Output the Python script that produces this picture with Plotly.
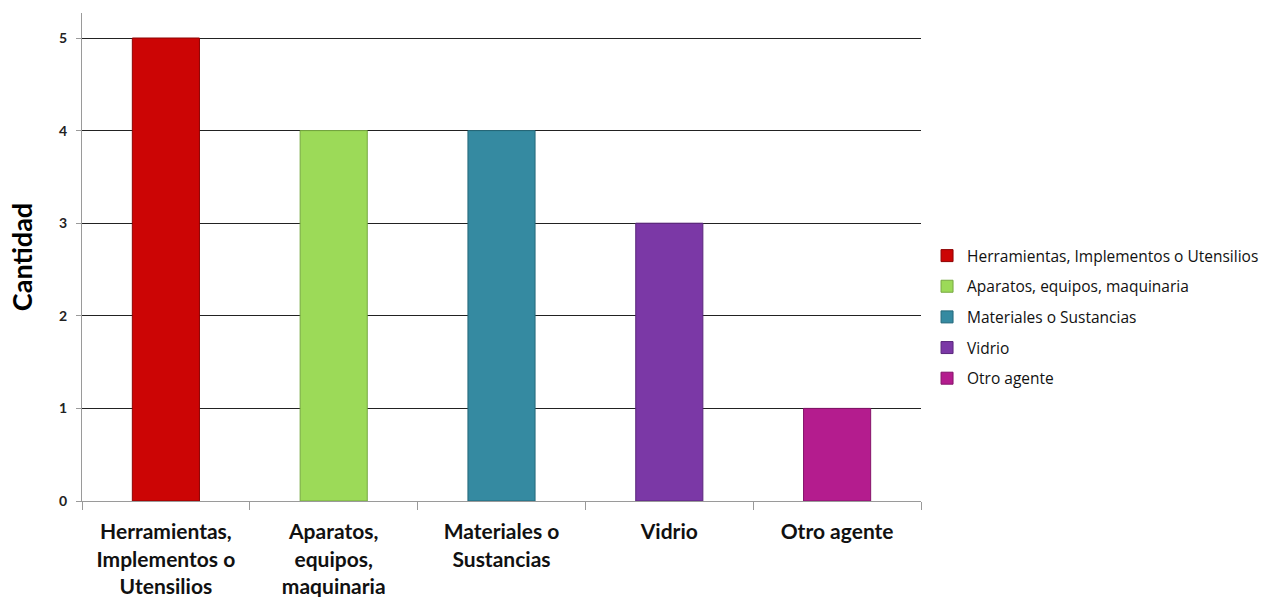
import plotly.graph_objects as go

categories = [
    "Herramientas,<br>Implementos o<br>Utensilios",
    "Aparatos,<br>equipos,<br>maquinaria",
    "Materiales o<br>Sustancias",
    "Vidrio",
    "Otro agente",
]
legend_names = [
    "Herramientas, Implementos o Utensilios",
    "Aparatos, equipos, maquinaria",
    "Materiales o Sustancias",
    "Vidrio",
    "Otro agente",
]
values = [5, 4, 4, 3, 1]
colors = ["#CC0505", "#9CDA58", "#358AA1", "#7B38A6", "#B41C8E"]
edge_colors = ["#8E0303", "#76A840", "#25687A", "#5A277C", "#85146A"]

fig = go.Figure()
for cat, name, val, col, edge in zip(categories, legend_names, values, colors, edge_colors):
    fig.add_trace(go.Bar(
        x=[cat], y=[val], name=name, width=0.4,
        legendgroup=name,
        marker=dict(color=col, line=dict(color=edge, width=1)),
    ))

fig.update_layout(
    width=1275, height=597,
    margin=dict(l=82, r=353, t=13, b=96),
    paper_bgcolor="white", plot_bgcolor="white",
    barmode="overlay",
    font=dict(family="Lato, Open Sans, sans-serif", color="#000000"),
    showlegend=True,
    legend=dict(
        x=1.006, xanchor="left", y=0.377, yanchor="middle",
        font=dict(size=15.5, color="#111111", family="Open Sans, sans-serif"),
        tracegroupgap=7.5, itemwidth=30,
    ),
    xaxis=dict(
        categoryorder="array", categoryarray=categories,
        showline=True, linecolor="#9A9A9A", linewidth=1,
        ticks="outside", tickson="boundaries", ticklen=8, tickcolor="#9A9A9A",
        tickfont=dict(size=21, color="#111111", family="Lato, sans-serif", weight="bold"),
        ticklabelstandoff=12,
        showgrid=False,
        automargin=False,
    ),
    yaxis=dict(
        range=[0, 5.27], tickvals=[0, 1, 2, 3, 4, 5],
        showline=True, linecolor="#9A9A9A", linewidth=1,
        ticks="outside", ticklen=5, tickcolor="#9A9A9A",
        tickfont=dict(size=14, color="#222222", weight="bold"),
        ticklabelstandoff=6,
        showgrid=True, gridcolor="#222222", gridwidth=1,
        zeroline=False,
        automargin=False,
        title=dict(text="<b>Cantidad</b>", font=dict(size=27, color="#000000"), standoff=18),
    ),
)

fig.write_html("out.html")
